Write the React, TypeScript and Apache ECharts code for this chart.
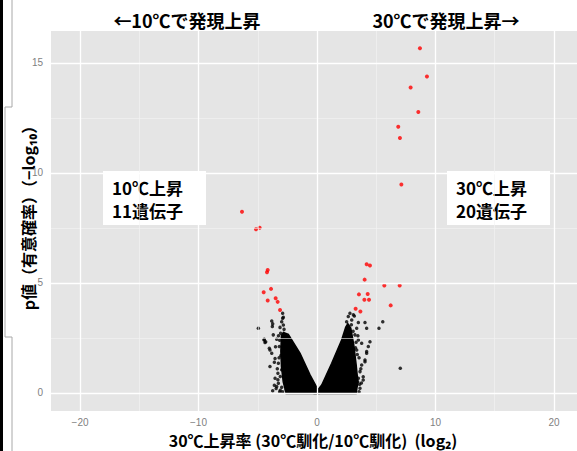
import React, { useEffect, useRef } from 'react';
import * as echarts from 'echarts';

// ---- axis ticks & grid positions ----
const xTicks = [-20, -10, 0, 10, 20];
const yTicks = [0, 5, 10, 15];
const xMajorGrid = [-20, -10, 0, 10, 20];
const xMinorGrid = [-15, -5, 5, 15];
const yMajorGrid = [0, 5, 10, 15];
const yMinorGrid = [2.5, 7.5, 12.5];

// ---- significant genes (red) ----
const up10Genes = [
  [-6.33, 8.24], [-5.15, 7.44], [-4.84, 7.51], [-4.16, 5.59], [-4.22, 5.49],
  [-3.88, 4.73], [-4.5, 4.58], [-3.49, 4.3], [-4.16, 4.2], [-3.32, 4.14], [-3.12, 3.77],
];
const up30Genes = [
  [8.69, 15.67], [9.28, 14.38], [7.9, 13.88], [8.55, 12.77], [6.86, 12.1],
  [7.0, 11.59], [7.12, 9.47], [4.19, 5.85], [4.47, 5.79], [4.02, 5.15],
  [5.68, 4.88], [6.98, 4.88], [3.54, 4.48], [4.28, 4.5], [4.0, 4.24],
  [4.39, 4.24], [6.22, 3.98], [3.26, 3.83], [3.66, 3.7],
];

// ---- other genes (black, sparse ones read individually) ----
const otherGenes = [
  [-4.95, 2.94], [-3.82, 3.27], [-3.74, 3.14], [-2.9, 3.62], [-2.84, 3.44],
  [-2.9, 3.39], [-2.98, 3.24], [-2.84, 3.09], [-2.78, 2.89], [-3.12, 2.98],
  [-3.77, 3.02], [-3.69, 2.64], [-3.4, 2.44], [-4.47, 2.41], [-4.39, 2.29],
  [-4.45, 2.44], [-4.33, 2.33], [-4.02, 2.03], [-3.97, 1.95], [-3.82, 1.8],
  [-3.54, 1.57], [-3.26, 1.35], [-2.98, 1.05], [-2.7, 0.74], [-3.97, 1.2],
  [-3.54, 0.67], [-3.26, 0.44], [-2.98, 0.26], [-3.74, 0.1], [-3.4, 0.29],
  [-2.28, 0.21], [-3.18, 2.11], [-3.07, 2.71], [-2.84, 2.26], [-2.6, 0.15],
  [-2.9, 0.05], [-3.1, 0.12], [-3.05, 1.7], [-3.15, 2.4], [-3.3, 0.9],
  [-3.3, 0.6], [-3.45, 0.2], [-3.2, 1.6], [-3.35, 1.1], [-3.6, 1.4],
  [-3.5, 2.1], [-3.25, 2.6], [-3.6, 0.35], [-3.15, 0.05], [-3.1, 0.75],
  [2.64, 3.47], [2.78, 3.62], [2.5, 3.24], [3.15, 3.5], [3.07, 3.55],
  [2.93, 3.32], [3.49, 3.2], [4.05, 3.2], [4.19, 2.94], [3.35, 2.94],
  [5.55, 3.24], [5.23, 2.94], [3.2, 2.64], [3.49, 2.41], [3.77, 2.26],
  [4.47, 2.33], [4.33, 2.11], [4.19, 1.88], [4.19, 1.8], [4.05, 1.5],
  [4.05, 1.42], [3.77, 1.27], [3.63, 0.97], [3.49, 0.67], [3.9, 0.74],
  [3.43, 0.51], [3.15, 0.21], [3.9, 0.59], [3.63, 0.21], [3.35, 0.36],
  [3.35, 1.95], [3.2, 1.2], [7.03, 1.12], [3.3, 2.3], [3.05, 2.8],
  [3.55, 1.6], [3.6, 0.4], [3.7, 1.1], [3.45, 2.6], [2.9, 3.1],
  [3.75, 0.45], [3.55, 0.05], [3.4, 1.75], [3.25, 2.05],
];

// ---- outlines of the dense (overplotted) masses of genes ----
const denseLeft = [
  [-3.0, 2.62], [-2.84, 2.75], [-2.42, 2.66], [-1.43, 1.8], [-0.59, 0.82],
  [0.11, 0.12], [0.15, -0.02], [-2.6, -0.02], [-2.85, 0.5], [-3.0, 1.2], [-3.05, 1.9],
];
const denseRight = [
  [-0.17, -0.02], [0.4, 0.36], [1.24, 1.35], [2.08, 2.41], [2.42, 2.98],
  [2.6, 3.15], [2.85, 2.95], [3.1, 2.2], [3.3, 1.3], [3.45, 0.5], [3.3, -0.02],
];

const JP = '"Noto Sans CJK JP", "Noto Sans", sans-serif';

export default function App() {
  const ref = useRef<HTMLDivElement>(null);
  useEffect(() => {
    document.body.style.margin = '0';
    const chart = echarts.init(ref.current!, null, { renderer: 'svg' });
    const major = { color: '#ffffff', width: 1.3, type: 'solid' };
    const minor = { color: '#f3f3f3', width: 0.6, type: 'solid' };
    const gridLines = [
      ...xMinorGrid.map((v) => ({ xAxis: v, lineStyle: minor })),
      ...yMinorGrid.map((v) => ({ yAxis: v, lineStyle: minor })),
      ...xMajorGrid.map((v) => ({ xAxis: v, lineStyle: major })),
      ...yMajorGrid.map((v) => ({ yAxis: v, lineStyle: major })),
    ];
    const fmt = (v: number) => (v < 0 ? '\u2212' + Math.abs(v) : String(v));
    const tickCol = '#8c8c8c';
    const txt = (x: number, y: number, text: string, size: number, align = 'center', extra: any = {}) => ({
      type: 'text',
      x,
      y,
      ...extra,
      style: {
        text,
        fill: '#000',
        font: `bold ${size}px ${JP}`,
        textAlign: align,
        textVerticalAlign: 'middle',
        align,
        verticalAlign: 'middle',
      },
    });
    chart.setOption({
      animation: false,
      backgroundColor: '#ffffff',
      grid: {
        left: 51,
        top: 31,
        width: 532,
        height: 380,
        show: true,
        backgroundColor: '#e5e5e5',
        borderWidth: 0,
        containLabel: false,
        outerBoundsMode: 'none',
      },
      xAxis: {
        type: 'value',
        min: -22.45,
        max: 22.45,
        axisLine: { show: false },
        splitLine: { show: false },
        axisTick: { show: true, customValues: xTicks, length: 4, lineStyle: { color: tickCol } },
        axisLabel: {
          customValues: xTicks,
          color: '#7f7f7f',
          fontSize: 10,
          fontFamily: 'Liberation Sans, Arial, sans-serif',
          margin: 6,
          formatter: fmt,
        },
      },
      yAxis: {
        type: 'value',
        min: -0.82,
        max: 16.45,
        axisLine: { show: false },
        splitLine: { show: false },
        axisTick: { show: true, customValues: yTicks, length: 4, lineStyle: { color: tickCol } },
        axisLabel: {
          customValues: yTicks,
          color: '#7f7f7f',
          fontSize: 10,
          fontFamily: 'Liberation Sans, Arial, sans-serif',
          margin: 8,
          formatter: fmt,
        },
      },
      series: [
        {
          type: 'scatter',
          data: [],
          z: 1,
          silent: true,
          markLine: {
            silent: true,
            symbol: ['none', 'none'],
            label: { show: false },
            emphasis: { disabled: true },
            data: gridLines,
          },
        },
        {
          type: 'custom',
          z: 2,
          silent: true,
          data: [[0, 0]],
          renderItem: (_params: any, api: any) => ({
            type: 'group',
            children: [denseLeft, denseRight].map((poly) => ({
              type: 'polygon',
              shape: { points: poly.map((p) => api.coord(p)) },
              style: { fill: '#000', stroke: '#000', lineWidth: 1.5 },
            })),
          }),
        },
        {
          type: 'scatter',
          z: 3,
          data: otherGenes,
          symbol: 'circle',
          symbolSize: 3.5,
          itemStyle: { color: '#000' },
        },
        {
          type: 'scatter',
          z: 4,
          data: up10Genes,
          symbol: 'circle',
          symbolSize: 4,
          itemStyle: { color: '#ff0000' },
        },
        {
          type: 'scatter',
          z: 4,
          data: up30Genes,
          symbol: 'circle',
          symbolSize: 4,
          itemStyle: { color: '#ff0000' },
        },
      ],
      graphic: [
        { type: 'rect', shape: { x: 0, y: 0, width: 3, height: 451 }, style: { fill: '#000' } },
        {
          type: 'polyline',
          shape: { points: [[12, 0], [12, 107], [5, 107], [5, 337], [12, 337], [12, 451]] },
          style: { stroke: '#a8a8a8', lineWidth: 1, fill: null },
        },
        txt(187, 20, '←10℃で発現上昇', 18),
        txt(446, 20, '30℃で発現上昇→', 18),
        { type: 'rect', shape: { x: 103, y: 171, width: 103, height: 54 }, style: { fill: '#fff' } },
        txt(112, 187, '10℃上昇', 17, 'left'),
        txt(112, 210, '11遺伝子', 17, 'left'),
        { type: 'rect', shape: { x: 447, y: 171, width: 103, height: 54 }, style: { fill: '#fff' } },
        txt(456, 187, '30℃上昇', 17, 'left'),
        txt(456, 210, '20遺伝子', 17, 'left'),
        txt(313, 440, '30℃上昇率 (30℃馴化/10℃馴化)  (log₂)', 16),
        txt(28, 214, 'p値（有意確率）（−log₁₀）', 16, 'center', { rotation: Math.PI / 2 }),
      ],
    });
    return () => chart.dispose();
  }, []);
  return (
    <div
      ref={ref}
      style={{ position: 'fixed', left: 0, top: 0, width: 577, height: 451, background: '#fff' }}
    />
  );
}
